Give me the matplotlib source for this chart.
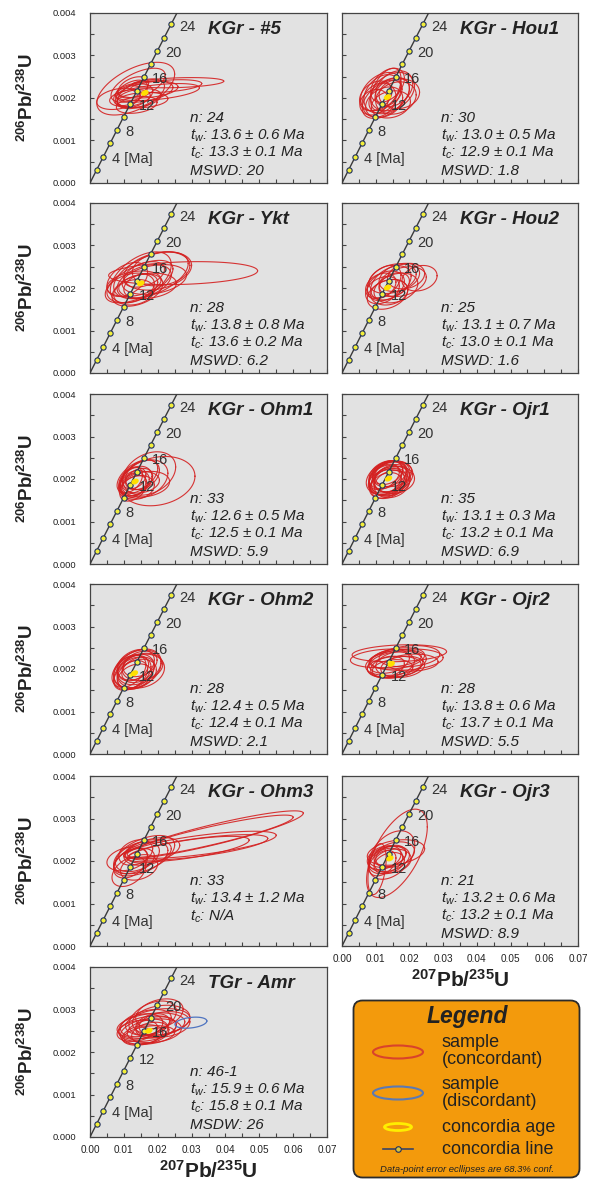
import numpy as np
import matplotlib
matplotlib.use("Agg")
import matplotlib.pyplot as plt
from matplotlib.patches import FancyBboxPatch, Ellipse
from matplotlib.ticker import MultipleLocator, FormatStrFormatter

plt.rcParams["font.family"] = ["Liberation Sans", "DejaVu Sans"]
plt.rcParams["mathtext.fontset"] = "custom"
plt.rcParams["mathtext.rm"] = "Liberation Sans"
plt.rcParams["mathtext.it"] = "Liberation Sans:italic"
plt.rcParams["mathtext.bf"] = "Liberation Sans:bold"

# ---- sample summary ----
SAMPLES = ["KGr - #5", "KGr - Hou1", "KGr - Ykt", "KGr - Hou2", "KGr - Ohm1", "KGr - Ojr1",
           "KGr - Ohm2", "KGr - Ojr2", "KGr - Ohm3", "KGr - Ojr3", "TGr - Amr"]
N_TXT = ["24", "30", "28", "25", "33", "35", "28", "28", "33", "21", "46-1"]
TW = [13.6, 13.0, 13.8, 13.1, 12.6, 13.1, 12.4, 13.8, 13.4, 13.2, 15.9]
TW_ERR = [0.6, 0.5, 0.8, 0.7, 0.5, 0.3, 0.5, 0.6, 1.2, 0.6, 0.6]
TC = [13.3, 12.9, 13.6, 13.0, 12.5, 13.2, 12.4, 13.7, None, 13.2, 15.8]
TC_ERR = [0.1, 0.1, 0.2, 0.1, 0.1, 0.1, 0.1, 0.1, None, 0.1, 0.1]
MSWD = ["20", "1.8", "6.2", "1.6", "5.9", "6.9", "2.1", "5.5", None, "8.9", "26"]
MSWD_KEY = ["MSWD"] * 10 + ["MSDW"]
# concordia-age ellipse centres (207/235, 206/238)
CA_X = [0.0162, 0.0135, 0.0150, 0.0135, 0.0133, 0.0138, 0.0131, 0.0146, None, 0.0142, 0.0174]
CA_Y = [0.00212, 0.00202, 0.00211, 0.00201, 0.00194, 0.00201, 0.00190, 0.00212, None, 0.00206, 0.00250]

# concordia ticks [Ma]
AGE_MARKS = [2, 4, 6, 8, 10, 12, 14, 16, 18, 20, 22, 24]
AGE_LABELS = {4: "4 [Ma]", 8: "8", 12: "12", 16: "16", 20: "20", 24: "24"}
L235 = 9.8485e-10 * 1e6   # per Ma
L238 = 1.55125e-10 * 1e6

# ---- data-point error ellipses: (207/235, 206/238, sx, sy, rho) ----
ELL_KGR5 = [(0.0135, 0.00222, 0.0115, 0.00062, 0.55), (0.0260, 0.00236, 0.0135, 0.00012, 0.3),
            (0.0200, 0.00214, 0.0123, 0.00020, 0.5), (0.0225, 0.00228, 0.0105, 0.00015, 0.4),
            (0.0084, 0.00198, 0.0064, 0.00025, 0.3), (0.0138, 0.00184, 0.0060, 0.00020, 0.3),
            (0.0150, 0.00210, 0.0070, 0.00035, 0.5), (0.0130, 0.00205, 0.0055, 0.00028, 0.4),
            (0.0160, 0.00215, 0.0085, 0.00025, 0.4), (0.0120, 0.00212, 0.0050, 0.00030, 0.5),
            (0.0145, 0.00200, 0.0065, 0.00022, 0.3), (0.0170, 0.00220, 0.0090, 0.00020, 0.3),
            (0.0128, 0.00225, 0.0045, 0.00025, 0.4), (0.0155, 0.00195, 0.0075, 0.00018, 0.2),
            (0.0142, 0.00230, 0.0080, 0.00040, 0.6), (0.0118, 0.00200, 0.0060, 0.00020, 0.3)]
ELL_HOU1 = [(0.0120, 0.00210, 0.0055, 0.00045, 0.3), (0.0140, 0.00205, 0.0060, 0.00042, 0.4),
            (0.0110, 0.00195, 0.0050, 0.00040, 0.2), (0.0150, 0.00215, 0.0065, 0.00045, 0.3),
            (0.0130, 0.00220, 0.0045, 0.00050, 0.5), (0.0100, 0.00205, 0.0048, 0.00035, 0.3),
            (0.0160, 0.00200, 0.0060, 0.00038, 0.2), (0.0125, 0.00190, 0.0055, 0.00036, 0.3),
            (0.0135, 0.00230, 0.0050, 0.00040, 0.4), (0.0145, 0.00185, 0.0058, 0.00032, 0.2),
            (0.0115, 0.00215, 0.0060, 0.00045, 0.4), (0.0155, 0.00222, 0.0055, 0.00042, 0.3),
            (0.0170, 0.00210, 0.0060, 0.00035, 0.1), (0.0095, 0.00190, 0.0042, 0.00030, 0.2),
            (0.0130, 0.00200, 0.0070, 0.00048, 0.5), (0.0138, 0.00212, 0.0040, 0.00030, 0.3)]
ELL_YKT = [(0.0275, 0.00235, 0.0220, 0.00027, 0.2), (0.0180, 0.00230, 0.0110, 0.00055, 0.5),
           (0.0200, 0.00240, 0.0100, 0.00045, 0.3), (0.0150, 0.00225, 0.0090, 0.00060, 0.5),
           (0.0160, 0.00215, 0.0080, 0.00040, 0.4), (0.0130, 0.00210, 0.0080, 0.00030, 0.3),
           (0.0120, 0.00200, 0.0070, 0.00035, 0.3), (0.0170, 0.00205, 0.0085, 0.00030, 0.2),
           (0.0140, 0.00195, 0.0075, 0.00038, 0.4), (0.0110, 0.00220, 0.0060, 0.00040, 0.4),
           (0.0190, 0.00220, 0.0095, 0.00035, 0.3), (0.0150, 0.00205, 0.0050, 0.00028, 0.3),
           (0.0210, 0.00245, 0.0085, 0.00040, 0.2), (0.0160, 0.00232, 0.0060, 0.00030, 0.4),
           (0.0130, 0.00190, 0.0060, 0.00030, 0.2), (0.0145, 0.00215, 0.0100, 0.00050, 0.6)]
ELL_HOU2 = [(0.0230, 0.00223, 0.0052, 0.00030, 0.2), (0.0180, 0.00215, 0.0070, 0.00035, 0.3),
            (0.0130, 0.00205, 0.0055, 0.00035, 0.3), (0.0120, 0.00195, 0.0050, 0.00032, 0.3),
            (0.0145, 0.00212, 0.0060, 0.00040, 0.4), (0.0160, 0.00200, 0.0065, 0.00035, 0.3),
            (0.0140, 0.00190, 0.0055, 0.00030, 0.2), (0.0125, 0.00215, 0.0050, 0.00038, 0.4),
            (0.0170, 0.00225, 0.0060, 0.00033, 0.3), (0.0150, 0.00222, 0.0070, 0.00035, 0.3),
            (0.0135, 0.00185, 0.0060, 0.00035, 0.3), (0.0190, 0.00228, 0.0055, 0.00030, 0.2),
            (0.0115, 0.00205, 0.0045, 0.00030, 0.3), (0.0155, 0.00208, 0.0045, 0.00028, 0.3)]
ELL_OHM1 = [(0.0200, 0.00195, 0.0110, 0.00058, 0.2), (0.0175, 0.00213, 0.0078, 0.00051, 0.3),
            (0.0160, 0.00200, 0.0070, 0.00045, 0.3), (0.0140, 0.00205, 0.0060, 0.00040, 0.5),
            (0.0130, 0.00190, 0.0045, 0.00030, 0.3), (0.0125, 0.00185, 0.0040, 0.00030, 0.3),
            (0.0140, 0.00180, 0.0050, 0.00028, 0.2), (0.0150, 0.00192, 0.0055, 0.00025, 0.2),
            (0.0120, 0.00198, 0.0035, 0.00030, 0.4), (0.0135, 0.00195, 0.0048, 0.00035, 0.3),
            (0.0165, 0.00188, 0.0070, 0.00030, 0.2), (0.0145, 0.00200, 0.0040, 0.00025, 0.3),
            (0.0128, 0.00178, 0.0040, 0.00030, 0.4), (0.0155, 0.00210, 0.0050, 0.00035, 0.3),
            (0.0130, 0.00202, 0.0035, 0.00025, 0.3)]
ELL_OJR1 = [(0.0140, 0.00200, 0.0060, 0.00040, 0.2), (0.0135, 0.00205, 0.0055, 0.00038, 0.3),
            (0.0145, 0.00195, 0.0058, 0.00035, 0.2), (0.0130, 0.00210, 0.0050, 0.00033, 0.3),
            (0.0150, 0.00205, 0.0060, 0.00036, 0.2), (0.0138, 0.00190, 0.0054, 0.00036, 0.3),
            (0.0155, 0.00198, 0.0060, 0.00032, 0.1), (0.0128, 0.00198, 0.0048, 0.00035, 0.3),
            (0.0142, 0.00212, 0.0050, 0.00030, 0.3), (0.0133, 0.00192, 0.0055, 0.00030, 0.2),
            (0.0148, 0.00188, 0.0052, 0.00032, 0.2), (0.0137, 0.00203, 0.0065, 0.00040, 0.3),
            (0.0125, 0.00205, 0.0045, 0.00030, 0.4), (0.0152, 0.00212, 0.0055, 0.00030, 0.2),
            (0.0140, 0.00197, 0.0045, 0.00028, 0.2), (0.0135, 0.00215, 0.0045, 0.00028, 0.3),
            (0.0145, 0.00202, 0.0050, 0.00032, 0.3), (0.0130, 0.00185, 0.0048, 0.00030, 0.3)]
ELL_OHM2 = [(0.0140, 0.00200, 0.0070, 0.00045, 0.3), (0.0130, 0.00195, 0.0060, 0.00040, 0.3),
            (0.0125, 0.00190, 0.0055, 0.00038, 0.4), (0.0145, 0.00205, 0.0065, 0.00042, 0.3),
            (0.0120, 0.00185, 0.0050, 0.00035, 0.4), (0.0150, 0.00195, 0.0070, 0.00040, 0.2),
            (0.0135, 0.00210, 0.0055, 0.00036, 0.3), (0.0115, 0.00195, 0.0050, 0.00038, 0.4),
            (0.0138, 0.00188, 0.0058, 0.00035, 0.3), (0.0155, 0.00205, 0.0060, 0.00032, 0.2),
            (0.0128, 0.00202, 0.0045, 0.00030, 0.3), (0.0142, 0.00198, 0.0048, 0.00030, 0.3),
            (0.0132, 0.00182, 0.0050, 0.00030, 0.3), (0.0148, 0.00212, 0.0050, 0.00030, 0.3)]
ELL_OJR2 = [(0.0170, 0.00237, 0.0140, 0.00020, 0.2), (0.0130, 0.00225, 0.0105, 0.00022, 0.2),
            (0.0190, 0.00222, 0.0110, 0.00025, 0.2), (0.0160, 0.00215, 0.0090, 0.00030, 0.3),
            (0.0145, 0.00210, 0.0070, 0.00030, 0.3), (0.0155, 0.00205, 0.0080, 0.00025, 0.2),
            (0.0170, 0.00212, 0.0070, 0.00030, 0.2), (0.0140, 0.00218, 0.0060, 0.00028, 0.3),
            (0.0210, 0.00215, 0.0075, 0.00020, 0.1), (0.0150, 0.00200, 0.0060, 0.00022, 0.2),
            (0.0180, 0.00205, 0.0065, 0.00025, 0.2), (0.0165, 0.00225, 0.0080, 0.00025, 0.3),
            (0.0135, 0.00205, 0.0050, 0.00025, 0.3), (0.0200, 0.00230, 0.0090, 0.00025, 0.2)]
ELL_OHM3 = [(0.0365, 0.00262, 0.0265, 0.00056, 0.9), (0.0350, 0.00258, 0.0250, 0.00050, 0.9),
            (0.0330, 0.00238, 0.0220, 0.00032, 0.7), (0.0320, 0.00232, 0.0205, 0.00030, 0.7),
            (0.0290, 0.00228, 0.0180, 0.00030, 0.7), (0.0160, 0.00215, 0.0090, 0.00045, 0.5),
            (0.0150, 0.00205, 0.0080, 0.00040, 0.5), (0.0140, 0.00210, 0.0065, 0.00035, 0.4),
            (0.0130, 0.00200, 0.0060, 0.00030, 0.4), (0.0170, 0.00220, 0.0070, 0.00030, 0.3),
            (0.0120, 0.00195, 0.0050, 0.00035, 0.4), (0.0145, 0.00185, 0.0055, 0.00030, 0.3),
            (0.0115, 0.00175, 0.0050, 0.00035, 0.4), (0.0185, 0.00225, 0.0080, 0.00030, 0.4),
            (0.0135, 0.00220, 0.0050, 0.00030, 0.3), (0.0110, 0.00205, 0.0060, 0.00028, 0.3)]
ELL_OJR3 = [(0.0163, 0.00218, 0.0090, 0.00104, 0.6), (0.0147, 0.00214, 0.0069, 0.00057, 0.4),
            (0.0104, 0.00181, 0.0027, 0.00060, 0.4), (0.0160, 0.00220, 0.0085, 0.00030, 0.3),
            (0.0140, 0.00205, 0.0060, 0.00030, 0.3), (0.0135, 0.00210, 0.0055, 0.00025, 0.3),
            (0.0150, 0.00200, 0.0055, 0.00028, 0.2), (0.0130, 0.00200, 0.0050, 0.00030, 0.3),
            (0.0145, 0.00212, 0.0045, 0.00025, 0.3), (0.0125, 0.00208, 0.0050, 0.00028, 0.3),
            (0.0155, 0.00215, 0.0060, 0.00030, 0.3), (0.0140, 0.00195, 0.0045, 0.00025, 0.3),
            (0.0120, 0.00195, 0.0040, 0.00030, 0.4)]
ELL_AMR = [(0.0180, 0.00262, 0.0100, 0.00030, 0.3), (0.0200, 0.00270, 0.0095, 0.00032, 0.3),
           (0.0170, 0.00255, 0.0085, 0.00030, 0.3), (0.0190, 0.00250, 0.0080, 0.00028, 0.2),
           (0.0160, 0.00248, 0.0070, 0.00030, 0.3), (0.0210, 0.00275, 0.0085, 0.00035, 0.2),
           (0.0175, 0.00240, 0.0075, 0.00022, 0.3), (0.0185, 0.00280, 0.0070, 0.00040, 0.4),
           (0.0150, 0.00260, 0.0065, 0.00030, 0.3), (0.0195, 0.00258, 0.0060, 0.00025, 0.2),
           (0.0165, 0.00268, 0.0075, 0.00032, 0.4), (0.0220, 0.00265, 0.0075, 0.00030, 0.2),
           (0.0178, 0.00245, 0.0055, 0.00025, 0.3), (0.0205, 0.00290, 0.0070, 0.00035, 0.3),
           (0.0155, 0.00240, 0.0060, 0.00024, 0.3), (0.0185, 0.00265, 0.0050, 0.00025, 0.3),
           (0.0140, 0.00250, 0.0060, 0.00025, 0.3)]
DISC_AMR = [(0.0298, 0.00269, 0.0047, 0.00013, 0.3)]

ELLIPSES = [ELL_KGR5, ELL_HOU1, ELL_YKT, ELL_HOU2, ELL_OHM1, ELL_OJR1,
            ELL_OHM2, ELL_OJR2, ELL_OHM3, ELL_OJR3, ELL_AMR]
DISCORDANT = [[], [], [], [], [], [], [], [], [], [], DISC_AMR]

# panel grid: (column, row) per sample, x tick labels shown on these
GRID = [(0, 0), (1, 0), (0, 1), (1, 1), (0, 2), (1, 2), (0, 3), (1, 3), (0, 4), (1, 4), (0, 5)]
XLAB_PANELS = {"KGr - Ojr3", "TGr - Amr"}

W, H = 589, 1180
COL_L = [90, 342]
COL_W = [237, 236]
ROW_T = [13, 203, 394, 584, 776, 967]
AX_H = 170

RED = "#d42020"
BLUE = "#4f74c0"
YEL = "#ffe000"


def ell_xy(x, y, sx, sy, rho, n=120):
    t = np.linspace(0, 2 * np.pi, n)
    return x + sx * np.cos(t), y + sy * (rho * np.cos(t) + np.sqrt(1 - rho ** 2) * np.sin(t))


fig = plt.figure(figsize=(W / 100, H / 100), dpi=100)

tt = np.linspace(0, 28, 200)
cx, cy = np.exp(L235 * tt) - 1, np.exp(L238 * tt) - 1
ma = np.array(AGE_MARKS, dtype=float)
mx, my = np.exp(L235 * ma) - 1, np.exp(L238 * ma) - 1

for i, name in enumerate(SAMPLES):
    c, r = GRID[i]
    ax = fig.add_axes([COL_L[c] / W, 1 - (ROW_T[r] + AX_H) / H, COL_W[c] / W, AX_H / H])
    ax.set_facecolor("#e2e2e2")
    ax.set_xlim(0, 0.07)
    ax.set_ylim(0, 0.004)

    for e in ELLIPSES[i]:
        ex, ey = ell_xy(*e)
        ax.plot(ex, ey, color=RED, lw=0.8, alpha=0.9, zorder=2)
    for e in DISCORDANT[i]:
        ex, ey = ell_xy(*e)
        ax.plot(ex, ey, color=BLUE, lw=0.9, zorder=2)

    ax.plot(cx, cy, color="#3a3a3a", lw=1.0, zorder=3)
    ax.plot(mx, my, "o", ms=3.8, mfc="#f2ee3a", mec="#1f2f5f", mew=0.8, zorder=4)
    for a, xx, yy in zip(AGE_MARKS, mx, my):
        if a in AGE_LABELS:
            ax.annotate(AGE_LABELS[a], (xx, yy), xytext=(6, -1.5), textcoords="offset points",
                        ha="left", va="center", fontsize=10.5, color="#333333", zorder=5)

    if CA_X[i] is not None:
        ex, ey = ell_xy(CA_X[i], CA_Y[i], 0.0011, 0.00007, 0.3)
        ax.fill(ex, ey, color=YEL, lw=0, zorder=6)

    ax.text(0.5, 0.905, name, transform=ax.transAxes, ha="left", va="center",
            fontsize=13.5, fontweight="bold", style="italic", color="#222222")
    lines = [f"n: {N_TXT[i]}", rf"$t_w$: {TW[i]:.1f} ± {TW_ERR[i]:.1f} Ma"]
    if TC[i] is None:
        lines.append(r"$t_c$: N/A")
    else:
        lines.append(rf"$t_c$: {TC[i]:.1f} ± {TC_ERR[i]:.1f} Ma")
    if MSWD[i] is not None:
        lines.append(f"{MSWD_KEY[i]}: {MSWD[i]}")
    for k, s in enumerate(lines):
        ax.text(0.42, [0.385, 0.28, 0.175, 0.07][k], s, transform=ax.transAxes, ha="left",
                va="center", fontsize=11, style="italic", color="#222222")

    ax.xaxis.set_major_locator(MultipleLocator(0.01))
    ax.xaxis.set_minor_locator(MultipleLocator(0.005))
    ax.yaxis.set_major_locator(MultipleLocator(0.001))
    ax.yaxis.set_minor_locator(MultipleLocator(0.0005))
    ax.tick_params(which="both", direction="in", length=3, width=0.8, color="#444444",
                   top=False, right=False)
    ax.tick_params(axis="y", labelsize=6.8, pad=10, labelcolor="#222222")
    ax.tick_params(axis="x", labelsize=7.2, pad=6, labelcolor="#222222")
    ax.yaxis.set_major_formatter(FormatStrFormatter("%.3f"))
    ax.xaxis.set_major_formatter(FormatStrFormatter("%.2f"))
    if c == 1:
        ax.tick_params(axis="y", labelleft=False)
    else:
        ax.text(-0.266, 0.5, r"$^{\mathbf{206}}$Pb/$^{\mathbf{238}}$U", transform=ax.transAxes,
                rotation=90, ha="center", va="center", fontsize=13.5, fontweight="bold",
                color="#222222")
    if name in XLAB_PANELS:
        ax.text(0.5, -0.2, r"$^{\mathbf{207}}$Pb/$^{\mathbf{235}}$U", transform=ax.transAxes,
                ha="center", va="center", fontsize=15, fontweight="bold", color="#222222")
    else:
        ax.tick_params(axis="x", labelbottom=False)
    for s in ax.spines.values():
        s.set_color("#444444")
        s.set_linewidth(0.9)

# ---- legend box ----
lg = fig.add_axes([352 / W, 1 - 1179 / H, 229 / W, 180 / H])
lg.set_xlim(0, 229)
lg.set_ylim(0, 180)
lg.axis("off")
lg.add_patch(FancyBboxPatch((1.5, 1.5), 226, 177, boxstyle="round,pad=0,rounding_size=9",
                            fc="#f39a0c", ec="#2b2b2b", lw=1.3))
lg.text(115, 163, "Legend", ha="center", va="center", fontsize=16.5, fontweight="bold",
        style="italic", color="#222222")
lg.add_patch(Ellipse((46, 127), 50, 13, fill=False, ec="#d9432b", lw=1.5))
lg.add_patch(Ellipse((46, 86), 50, 13, fill=False, ec="#5b79b4", lw=1.5))
lg.add_patch(Ellipse((46, 52), 27, 7, fill=False, ec="#ffee00", lw=2))
lg.plot([31, 61], [30, 30], color="#3a4466", lw=1.2)
lg.plot([46], [30], "o", ms=4, mfc="#d9c23a", mec="#1f2f5f", mew=0.8)
for txt, yy in [("sample\n(concordant)", 128), ("sample\n(discordant)", 86),
                ("concordia age", 52), ("concordia line", 30)]:
    lg.text(90, yy, txt, ha="left", va="center", fontsize=13, color="#222222", linespacing=0.95)
lg.text(115, 10, "Data-point error ecllipses are 68.3% conf.", ha="center", va="center",
        fontsize=6.8, style="italic", color="#222222")

fig.savefig("out.png", dpi=100)
